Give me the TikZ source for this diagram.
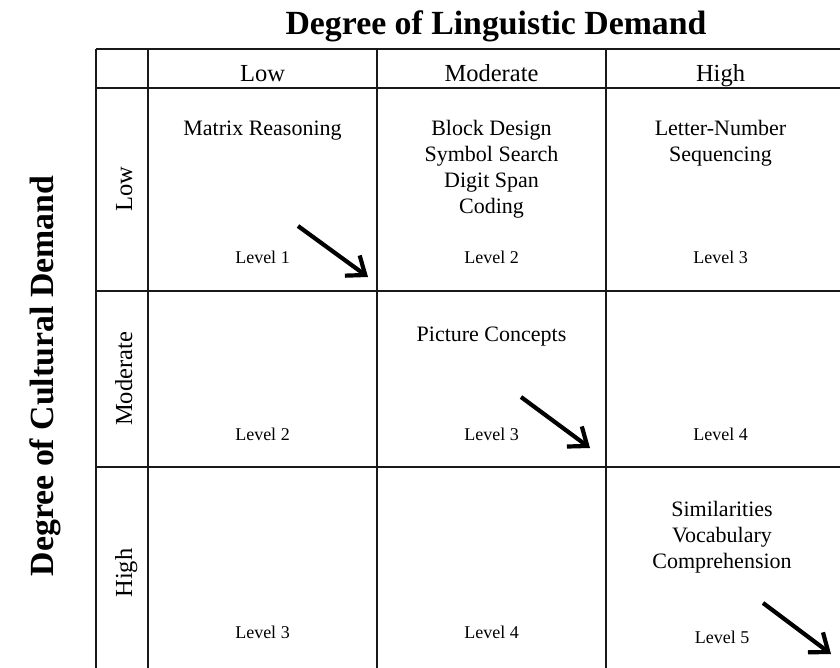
\documentclass[tikz,border=0pt]{standalone}
\usepackage{fontspec}
\setmainfont{Liberation Serif}
\usetikzlibrary{arrows.meta}
\tikzset{
  grid/.style={line width=1.3pt, draw=black!90},
  hdr/.style={font=\fontsize{24.5}{28}\selectfont, anchor=base, inner sep=0pt},
  rowlab/.style={font=\fontsize{24.5}{28}\selectfont, anchor=base, rotate=90, inner sep=0pt},
  celltxt/.style={font=\fontsize{22}{26}\selectfont, anchor=base, inner sep=0pt, align=center},
  lvl/.style={font=\fontsize{18}{22}\selectfont, anchor=base, inner sep=0pt},
  title/.style={font=\fontsize{33.8}{40}\selectfont\bfseries, anchor=base, inner sep=0pt},
  bigarrow/.style={line width=4.2pt, -{Straight Barb[length=16pt,width=25pt,line width=4.2pt]}}
}
\begin{document}
\begin{tikzpicture}[x=1pt,y=-1pt]
\useasboundingbox (0,0) rectangle (840,668);
\fill[white] (0,0) rectangle (840,668);
% grid
\draw[grid] (96,49) -- (840,49);
\draw[grid] (96,88) -- (840,88);
\draw[grid] (96,291) -- (840,291);
\draw[grid] (96,467) -- (840,467);
\draw[grid] (96,49) -- (96,668);
\draw[grid] (148,49) -- (148,668);
\draw[grid] (377,49) -- (377,668);
\draw[grid] (606,49) -- (606,668);
% titles
\node[title] (ttop) at (496,35) {Degree of Linguistic Demand};
\node[title, rotate=90] (tleft) at (53,376) {Degree of Cultural Demand};
% column headers
\node[hdr] (hlow) at (262.5,82) {Low};
\node[hdr] (hmod) at (491.5,82) {Moderate};
\node[hdr] (hhigh) at (720.5,82) {High};
% row labels
\node[rowlab] (rlow) at (132,189.5) {Low};
\node[rowlab] (rmod) at (132,379) {Moderate};
\node[rowlab] (rhigh) at (132,573) {High};
% row 1
\node[celltxt] (c11) at (262.5,136) {Matrix Reasoning};
\node[celltxt] (c12a) at (491.5,136) {Block Design};
\node[celltxt] (c12b) at (491.5,162) {Symbol Search};
\node[celltxt] (c12c) at (491.5,188) {Digit Span};
\node[celltxt] (c12d) at (491.5,214) {Coding};
\node[celltxt] (c13a) at (720.5,136) {Letter-Number};
\node[celltxt] (c13b) at (720.5,162) {Sequencing};
\node[lvl] (l11) at (262.5,263) {Level 1};
\node[lvl] (l12) at (491.5,263) {Level 2};
\node[lvl] (l13) at (720.5,263) {Level 3};
% row 2
\node[celltxt] (c22) at (491.5,341) {Picture Concepts};
\node[lvl] (l21) at (262.5,440) {Level 2};
\node[lvl] (l22) at (491.5,440) {Level 3};
\node[lvl] (l23) at (720.5,440) {Level 4};
% row 3
\node[celltxt] (c33a) at (722,516) {Similarities};
\node[celltxt] (c33b) at (722,542) {Vocabulary};
\node[celltxt] (c33c) at (722,568) {Comprehension};
\node[lvl] (l31) at (262.5,638) {Level 3};
\node[lvl] (l32) at (491.5,638) {Level 4};
\node[lvl] (l33) at (722,643) {Level 5};
% arrows
\coordinate (a1s) at (298,226); \coordinate (a1e) at (368,277);
\coordinate (a2s) at (521,397); \coordinate (a2e) at (590,448);
\coordinate (a3s) at (763,603); \coordinate (a3e) at (831,654);
\draw[bigarrow] (a1s) -- (a1e);
\draw[bigarrow] (a2s) -- (a2e);
\draw[bigarrow] (a3s) -- (a3e);
\end{tikzpicture}
\end{document}
